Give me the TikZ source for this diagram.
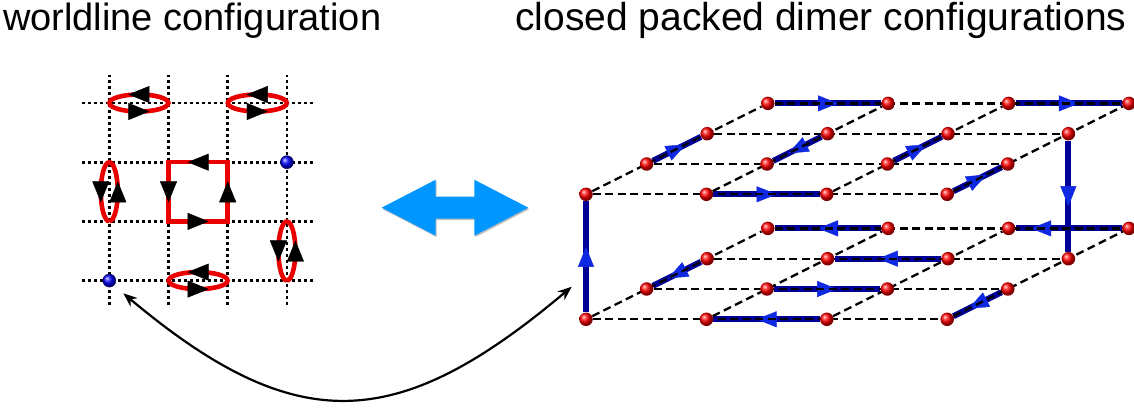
\documentclass[tikz,border=0pt]{standalone}
\usepackage{fontspec}
\setsansfont{Liberation Sans}
\usetikzlibrary{arrows.meta,decorations.markings,backgrounds,shadows}
\definecolor{loopred}{RGB}{235,0,0}
\definecolor{dimerblue}{RGB}{0,0,150}
\definecolor{tipblue}{RGB}{15,40,225}
\definecolor{mapblue}{RGB}{0,150,255}

\begin{document}
\begin{tikzpicture}[x=1pt,y=1pt,
    title/.style={anchor=base west,inner sep=0pt,
                  font=\fontsize{38}{40}\selectfont\sffamily},
    wl/.style={line width=2.8pt,dash pattern=on 2.8pt off 3.2pt},
    wtip/.tip={Triangle[length=21pt,width=17pt,line width=0.4pt,color=black]},
    wloop/.style={draw=loopred,line width=4.6pt,postaction={decorate},
      decoration={markings,mark=between positions 0.25 and 1 step 0.5
                  with {\arrow[xshift=10.5pt]{wtip}}}},
    wsquare/.style={draw=loopred,line width=4.6pt,postaction={decorate},
      decoration={markings,mark=between positions 0.125 and 1 step 0.25
                  with {\arrow[xshift=10.5pt]{wtip}}}},
    hole/.style={circle,inner sep=0pt,minimum size=13pt,shading=ball,
                 ball color=blue,draw=blue!30!black,line width=0.5pt},
    site/.style={circle,inner sep=0pt,minimum size=13.5pt,shading=ball,
                 ball color=red},
    lat/.style={dash pattern=on 8pt off 4.5pt,line width=2.3pt},
    dtip/.tip={Triangle[length=20pt,width=16pt,line width=0.4pt,color=tipblue]},
    dimer/.style={draw=dimerblue,line width=6pt,postaction={decorate},
      decoration={markings,mark=at position #1
                  with {\arrow[xshift=10pt]{dtip}}}},
    dimer/.default=0.5,
    link/.style={<->,>={Stealth[length=14pt,width=11pt]},line width=2.2pt},
  ]
  \useasboundingbox (0,0) rectangle (1134,412);
  \node[title](wltitle) at (3,381){worldline configuration};
  \node[title,font=\fontsize{39}{41}\selectfont\sffamily](cdtitle)
    at (515,381){closed packed dimer configurations};

  \begin{scope}[shift={(109.3,131.4)},x=59.2pt,y=59.2pt]
    \foreach \r in {0,...,3}{
      \draw[wl] (-0.46,\r) -- (3.49,\r);
      \draw[wl] (\r,-0.41) -- (\r,3.47);
    }
    \draw[wloop] (0.5,3) ellipse[x radius=29.5pt,y radius=8.5pt];
    \draw[wloop] (2.5,3) ellipse[x radius=29.5pt,y radius=8.5pt];
    \draw[wloop] (1.5,0) ellipse[x radius=29.5pt,y radius=8.5pt];
    \draw[wloop] (0,1.5) ++(0pt,-29.5pt)
      arc[start angle=-90,end angle=270,x radius=8.5pt,y radius=29.5pt];
    \draw[wloop] (3,0.5) ++(0pt,-29.5pt)
      arc[start angle=-90,end angle=270,x radius=8.5pt,y radius=29.5pt];
    \draw[wsquare] (2,2) -- (1,2) -- (1,1) -- (2,1) -- cycle;
    \node[hole](h1) at (3,2){};
    \node[hole](h2) at (0,0){};
  \end{scope}

  \fill[mapblue,drop shadow={shadow xshift=1pt,shadow yshift=-1.5pt,
        fill=black,opacity=0.25}]
    (381.7,204.3) -- (435.7,232.3) -- (435.7,215.3) -- (474.3,215.3)
    -- (474.3,232.3) -- (528.3,204.3) -- (474.3,176.3) -- (474.3,193.3)
    -- (435.7,193.3) -- (435.7,176.3) -- cycle;

  \begin{scope}[shift={(586,92.7)},x={(120.4pt,0pt)},y={(60.6pt,30.3pt)},
                z={(0pt,125pt)}]
    \foreach \i in {0,...,3}
      \foreach \j in {0,...,3}
        \foreach \k in {0,1}
          \node[site](s\i\j\k) at (\i,\j,\k){};
    \begin{scope}[on background layer]
      \draw[dimer] (s031)--(s131);
      \draw[dimer] (s231)--(s331);
      \draw[dimer] (s011)--(s021);
      \draw[dimer] (s121)--(s111);
      \draw[dimer] (s211)--(s221);
      \draw[dimer] (s301)--(s311);
      \draw[dimer] (s101)--(s201);
      \draw[dimer] (s000)--(s001);
      \draw[dimer] (s321)--(s320);
      \draw[dimer] (s130)--(s030);
      \draw[dimer=0.76] (s330)--(s230);
      \draw[dimer] (s220)--(s120);
      \draw[dimer] (s020)--(s010);
      \draw[dimer] (s110)--(s210);
      \draw[dimer] (s310)--(s300);
      \draw[dimer] (s200)--(s100);
      \foreach \k in {0,1}
        \foreach \n in {0,...,3}{
          \draw[lat] (s0\n\k)--(s3\n\k);
          \draw[lat] (s\n0\k)--(s\n3\k);
        }
    \end{scope}
  \end{scope}

  \coordinate (wlend) at (123.3,118.7);
  \coordinate (cdend) at (571.7,125.3);
  \draw[link] (wlend) .. controls (297,-27) and (398,-21) .. (cdend);
\end{tikzpicture}
\end{document}
